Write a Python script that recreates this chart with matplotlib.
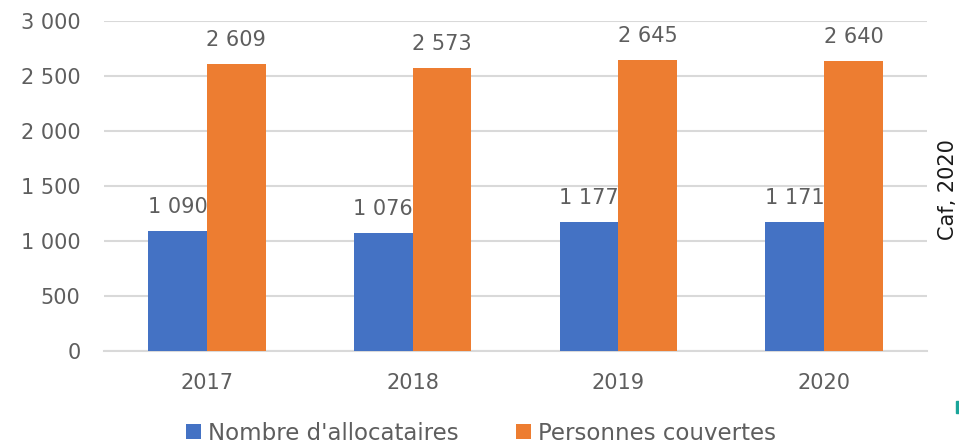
import matplotlib
matplotlib.use("Agg")
import matplotlib.pyplot as plt
import numpy as np
from matplotlib.patches import Rectangle

plt.rcParams['font.family'] = ['DejaVu Sans']

years = ["2017", "2018", "2019", "2020"]
allocataires = [1090, 1076, 1177, 1171]
personnes = [2609, 2573, 2645, 2640]
labels_alloc = ["1 090", "1 076", "1 177", "1 171"]
labels_pers = ["2 609", "2 573", "2 645", "2 640"]
yticks = [0, 500, 1000, 1500, 2000, 2500, 3000]
ytick_labels = ["0", "500", "1 000", "1 500", "2 000", "2 500", "3 000"]

BLUE = "#4472C4"
ORANGE = "#ED7D31"
TEXT = "#5E5E5E"
GRID = "#D9D9D9"
FS = 15

fig = plt.figure(figsize=(9.59, 4.46), dpi=100)
ax = fig.add_axes([104/959, 1 - 351/446, (927-104)/959, (351-21)/446])

x = np.arange(len(years))
w = 0.286
ax.bar(x - w/2, allocataires, w, color=BLUE, zorder=3, label="Nombre d'allocataires")
ax.bar(x + w/2, personnes, w, color=ORANGE, zorder=3, label="Personnes couvertes")

for xi, v, t in zip(x, allocataires, labels_alloc):
    ax.annotate(t, (xi - w/2, v), xytext=(0, 10), textcoords="offset points",
                ha="center", va="bottom", fontsize=FS, color=TEXT)
for xi, v, t in zip(x, personnes, labels_pers):
    ax.annotate(t, (xi + w/2, v), xytext=(0, 10), textcoords="offset points",
                ha="center", va="bottom", fontsize=FS, color=TEXT)

ax.set_xlim(-0.5, 3.5)
ax.set_ylim(0, 3000)
ax.set_yticks(yticks)
ax.set_yticklabels(ytick_labels)
ax.set_xticks(x)
ax.set_xticklabels(years)
ax.tick_params(axis="both", length=0, labelsize=FS, labelcolor=TEXT)
ax.tick_params(axis="y", pad=17)
ax.tick_params(axis="x", pad=16)
ax.grid(axis="y", color=GRID, linewidth=1.5, zorder=0)
for s in ["top", "right", "left"]:
    ax.spines[s].set_visible(False)
ax.spines["bottom"].set_color(GRID)
ax.spines["bottom"].set_linewidth(1.5)

fig.legend(loc="center", bbox_to_anchor=(481/959, 1 - 433/446), ncol=2,
           frameon=False, fontsize=FS + 1.5, labelcolor=TEXT, handlelength=0.65,
           handleheight=0.65, handletextpad=0.3, columnspacing=2.5)

fig.text(948/959, 1 - 190/446, "Caf, 2020", rotation=90, ha="center", va="center",
         fontsize=FS, color="#1a1a1a")

fig.patches.append(Rectangle((956/959, 1 - 413/446), 3/959, 12/446,
                             transform=fig.transFigure, color="#1AA59A"))

fig.savefig("out.png", dpi=100)
